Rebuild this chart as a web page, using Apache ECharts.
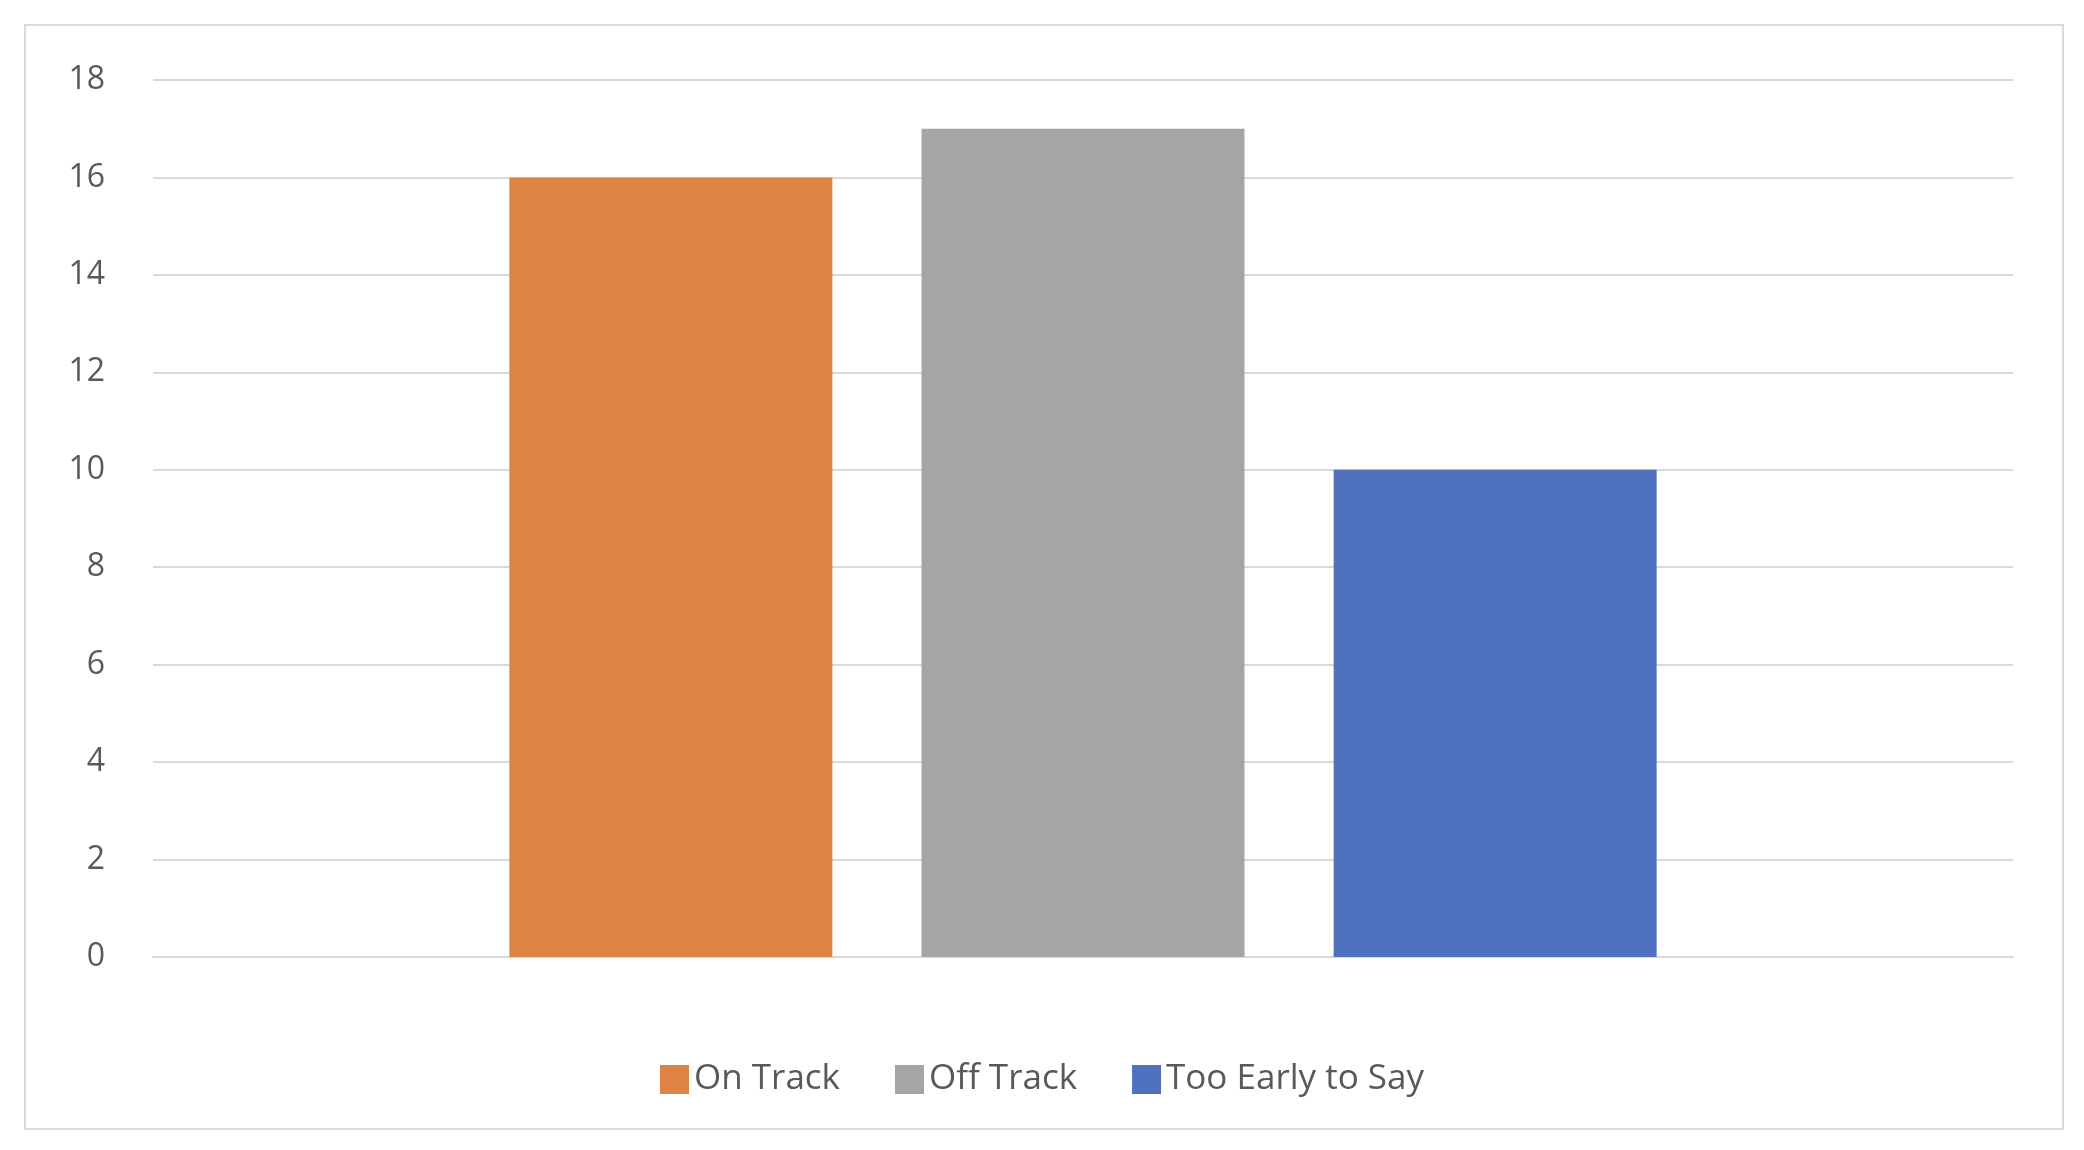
<!DOCTYPE html>
<html><head><meta charset="utf-8">
<script src="https://cdn.jsdelivr.net/npm/echarts@6/dist/echarts.min.js"></script>
<style>html,body{margin:0;padding:0;background:#fff}#c{width:2084px;height:1150px}
#b{position:absolute;left:24px;top:24px;width:2040px;height:1106px;border:2px solid #d9d9d9;box-sizing:border-box;pointer-events:none}</style>
</head><body><div id="c"></div><div id="b"></div>
<script>
const categories = [''];
const seriesNames = ['On Track', 'Off Track', 'Too Early to Say'];
const onTrack = [16];
const offTrack = [17];
const tooEarly = [10];
const colors = ['#df8344', '#a5a5a5', '#5071bd'];
const yTicks = {min: 0, max: 18, interval: 2};

const chart = echarts.init(document.getElementById('c'));
const vals = [onTrack, offTrack, tooEarly];
chart.setOption({
  animation: false,
  grid: {left: 153, right: 71, top: 80, bottom: 193},
  legend: {bottom: 48, itemWidth: 29, itemHeight: 29, itemGap: 55, icon: 'rect',
    textStyle: {fontSize: 35, color: '#595959', fontFamily: 'Open Sans'}},
  xAxis: {type: 'category', data: categories, axisLine: {lineStyle: {color: '#d9d9d9', width: 2}},
    axisTick: {show: false}, axisLabel: {show: false}},
  yAxis: {type: 'value', min: yTicks.min, max: yTicks.max, interval: yTicks.interval,
    axisLine: {show: false}, axisTick: {show: false},
    axisLabel: {fontSize: 32, color: '#595959', margin: 48, fontFamily: 'Open Sans'},
    splitLine: {lineStyle: {color: '#d9d9d9', width: 2}}},
  series: seriesNames.map((n, i) => ({
    name: n, type: 'bar', data: vals[i], itemStyle: {color: colors[i]},
    barWidth: 323, barGap: '27.6%'
  }))
});
</script></body></html>
